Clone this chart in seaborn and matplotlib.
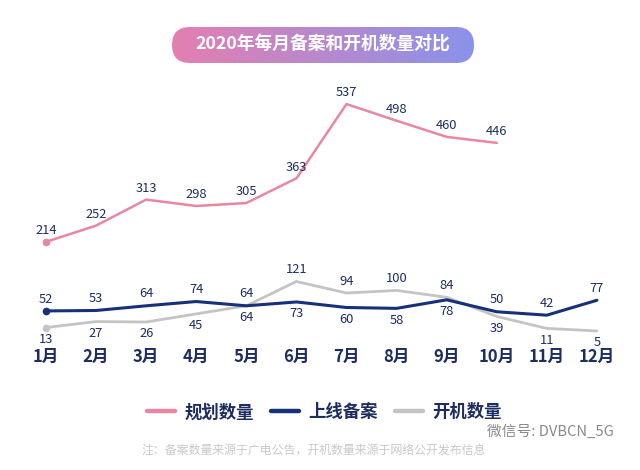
import numpy as np
import pandas as pd
import matplotlib
matplotlib.use("Agg")
import matplotlib.pyplot as plt
import seaborn as sns
from matplotlib.patches import FancyBboxPatch
from matplotlib.lines import Line2D

# ---------------- data ----------------
months = ['1月', '2月', '3月', '4月', '5月', '6月', '7月', '8月', '9月', '10月', '11月', '12月']
plan = [214, 252, 313, 298, 305, 363, 537, 498, 460, 446, np.nan, np.nan]      # 规划数量
filing = [52, 53, 64, 74, 64, 73, 60, 58, 78, 50, 42, 77]                      # 上线备案
boot = [13, 27, 26, 45, 64, 121, 94, 100, 84, 39, 11, 5]                       # 开机数量
series_names = ['规划数量', '上线备案', '开机数量']
title = '2020年每月备案和开机数量对比'
footnote = '注：备案数量来源于广电公告，开机数量来源于网络公开发布信息'
watermark = '微信号: DVBCN_5G'

# label side (+1 above / -1 below) for the two lower series
filing_side = [1, 1, 1, 1, 1, -1, -1, -1, -1, 1, 1, 1]
boot_side = [-1, -1, -1, -1, -1, 1, 1, 1, 1, -1, -1, -1]

PINK = '#e8879f'
NAVY = '#16307a'
GRAY = '#c4c4c6'
TXT = '#1d2d62'

sns.set_theme(style='white')
plt.rcParams['font.family'] = ['Noto Sans CJK SC', 'DejaVu Sans']

fig = plt.figure(figsize=(6.4, 4.7), dpi=100)
fig.patch.set_facecolor('white')
ax = fig.add_axes([0, 0, 1, 1])
ax.set_xlim(-0.918, 11.86)
ax.set_ylim(-321, 781)
ax.axis('off')

idx = np.arange(len(months))
df = pd.DataFrame({
    'idx': np.tile(idx, 3),
    'value': plan + filing + boot,
    'series': np.repeat(series_names, len(months)),
})

styles = {'开机数量': (GRAY, 2.0), '上线备案': (NAVY, 2.2), '规划数量': (PINK, 1.8)}
for name in ['开机数量', '上线备案', '规划数量']:
    col, lw = styles[name]
    sub = df[df['series'] == name].dropna()
    sns.lineplot(data=sub, x='idx', y='value', color=col, lw=lw, ax=ax,
                 sort=False, legend=False)
    ax.plot(sub['idx'].iloc[0], sub['value'].iloc[0], 'o', color=col, ms=4.5, zorder=5)

# value labels
lab_kw = dict(textcoords='offset points', ha='center', va='center',
              color=TXT, fontsize=9.3, fontweight='medium')
for i, v in enumerate(plan):
    if not np.isnan(v):
        ax.annotate(f'{int(v)}', (i, v), xytext=(0, 8), **lab_kw)
for i, v in enumerate(filing):
    ax.annotate(f'{v}', (i, v), xytext=(0, 8.5 * filing_side[i]), **lab_kw)
for i, v in enumerate(boot):
    ax.annotate(f'{v}', (i, v), xytext=(0, 8.5 * boot_side[i]), **lab_kw)

# month tick labels
for i, m in enumerate(months):
    ax.text(i, -57, m, ha='center', va='center', color=TXT,
            fontsize=12, fontweight='bold')

# legend
handles = [Line2D([], [], color=PINK, lw=3.2), Line2D([], [], color=NAVY, lw=3.2),
           Line2D([], [], color=GRAY, lw=3.2)]
leg = fig.legend(handles, series_names, loc='center', bbox_to_anchor=(0.507, 0.123),
                 ncol=3, frameon=False, handlelength=1.6, handletextpad=0.55,
                 columnspacing=1.0, prop={'size': 12.5, 'weight': 'bold'})
for t in leg.get_texts():
    t.set_color(TXT)

# title box with gradient
tax = fig.add_axes([172 / 640, 1 - 63 / 470, 302 / 640, 36 / 470])
tax.set_xlim(0, 302)
tax.set_ylim(0, 36)
tax.axis('off')
c1 = np.array(matplotlib.colors.to_rgb('#e47fb1'))
c2 = np.array(matplotlib.colors.to_rgb('#8a92ea'))
t = np.linspace(0, 1, 256)
grad = (c1[None, :] * (1 - t[:, None]) + c2[None, :] * t[:, None])[None, :, :]
im = tax.imshow(grad, extent=[0, 302, 0, 36], aspect='auto', interpolation='bilinear')
box = FancyBboxPatch((0, 0), 302, 36, boxstyle='round,pad=0,rounding_size=18',
                     transform=tax.transData, facecolor='none', edgecolor='none')
tax.add_patch(box)
im.set_clip_path(box)
tax.text(151, 18, title, ha='center', va='center', color='white',
         fontsize=12.8, fontweight='bold')

# footnote and watermark
fig.text(141 / 640, 1 - 450 / 470, footnote, ha='left', va='center',
         color='#c9c9c9', fontsize=8.6)
fig.text(487 / 640, 1 - 432 / 470, watermark, ha='left', va='center',
         color='#8a8a8a', fontsize=10.6)

fig.savefig('out.png', dpi=100, facecolor='white')
